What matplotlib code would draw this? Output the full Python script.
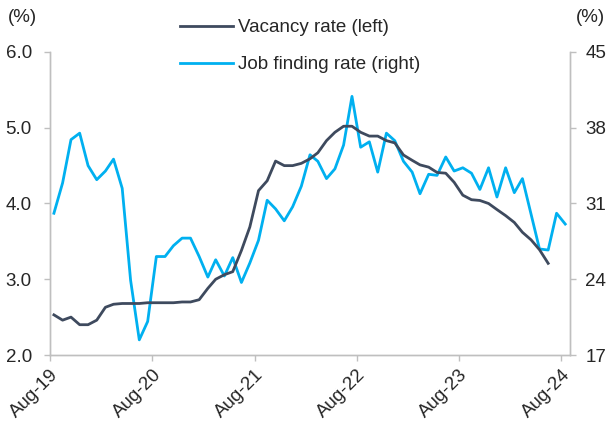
import pandas as pd
import matplotlib
matplotlib.use("Agg")
import matplotlib.pyplot as plt

plt.rcParams['font.family'] = ['Liberation Sans', 'DejaVu Sans']

# monthly data, Aug-19 onwards
vacancy = [2.53, 2.46, 2.50, 2.40, 2.40, 2.46, 2.63, 2.67,
           2.68, 2.68, 2.68, 2.69, 2.69, 2.69, 2.69, 2.70, 2.70, 2.73,
           2.88, 3.00, 3.06, 3.10, 3.38, 3.69, 4.17, 4.30, 4.56, 4.50, 4.50, 4.53, 4.59,
           4.67, 4.83, 4.94, 5.02, 5.02, 4.94, 4.89, 4.89, 4.83, 4.80, 4.64, 4.57,
           4.51, 4.48, 4.41, 4.40, 4.28, 4.11, 4.05, 4.04, 4.00, 3.92, 3.84, 3.75,
           3.62, 3.52, 3.39, 3.21]
job_finding = [30.1, 32.9, 36.9, 37.5, 34.5, 33.2, 34.0, 35.1, 32.4, 23.9,
               18.4, 20.1, 26.1, 26.1, 27.1, 27.8, 27.8, 26.1, 24.2, 25.8,
               24.3, 26.0, 23.7, 25.5, 27.6, 31.3, 30.5, 29.4, 30.7, 32.6,
               35.5, 34.9, 33.3, 34.2, 36.4, 40.9, 36.2, 36.7, 33.9, 37.5,
               36.8, 34.9, 33.9, 31.9, 33.7, 33.6, 35.3, 34.0, 34.3, 33.8,
               32.3, 34.3, 31.6, 34.3, 32.0, 33.3, 30.0, 26.8, 26.7, 30.1, 29.1]
start_month = '2019-08-01'
tick_labels = ['Aug-19', 'Aug-20', 'Aug-21', 'Aug-22', 'Aug-23', 'Aug-24']
left_ticks = [2.0, 3.0, 4.0, 5.0, 6.0]
right_ticks = [17, 24, 31, 38, 45]

dark = '#3E4A5E'
light = '#00B0F0'
text_col = '#262626'
spine_col = '#BFBFBF'
fs = 13.5


def main():
    months = pd.date_range(start_month, periods=len(job_finding), freq='MS') + pd.Timedelta(days=14)
    vac_dates = months[:len(vacancy)]

    fig = plt.figure(figsize=(6.07, 4.23), dpi=100)
    ax = fig.add_axes([50 / 607, 1 - 355 / 423, 520 / 607, 303 / 423])
    ax2 = ax.twinx()

    l1, = ax.plot(vac_dates, vacancy, color=dark, lw=2.0, label='Vacancy rate (left)')
    l2, = ax2.plot(months, job_finding, color=light, lw=2.0, label='Job finding rate (right)')
    ax.set_zorder(ax2.get_zorder() + 1)
    ax.patch.set_visible(False)

    ax.set_ylim(2.0, 6.0)
    ax2.set_ylim(17, 45)
    ax.set_yticks(left_ticks)
    ax.set_yticklabels([f"{t:.1f}" for t in left_ticks])
    ax2.set_yticks(right_ticks)
    ax2.set_yticklabels([str(t) for t in right_ticks])

    tick_dates = pd.date_range(start_month, periods=len(tick_labels), freq='12MS')
    ax.set_xlim(pd.Timestamp('2019-08-01'), pd.Timestamp('2024-09-01'))
    ax.set_xticks(tick_dates)
    ax.set_xticklabels(tick_labels, rotation=45, ha='right', rotation_mode='anchor')

    for a in (ax, ax2):
        a.spines['top'].set_visible(False)
        for side in ['left', 'right', 'bottom']:
            a.spines[side].set_color(spine_col)
            a.spines[side].set_linewidth(1.0)
        a.tick_params(colors=spine_col, labelcolor=text_col, labelsize=fs, length=4, width=1.0)
    ax.tick_params(axis='y', pad=9)
    ax2.tick_params(axis='y', pad=7)
    ax.tick_params(axis='x', pad=4)

    fig.text(8 / 607, 1 - 18 / 423, '(%)', fontsize=fs, color=text_col, va='center', ha='left')
    fig.text(605 / 607, 1 - 18 / 423, '(%)', fontsize=fs, color=text_col, va='center', ha='right')

    fig.legend(handles=[l1, l2], loc='upper left', bbox_to_anchor=(171 / 607, 1 - 10 / 423),
               frameon=False, fontsize=fs, handlelength=2.8, handletextpad=0.3,
               labelspacing=1.05, borderpad=0, labelcolor=text_col)

    fig.savefig('out.png', dpi=100)


if __name__ == "__main__":
    main()
